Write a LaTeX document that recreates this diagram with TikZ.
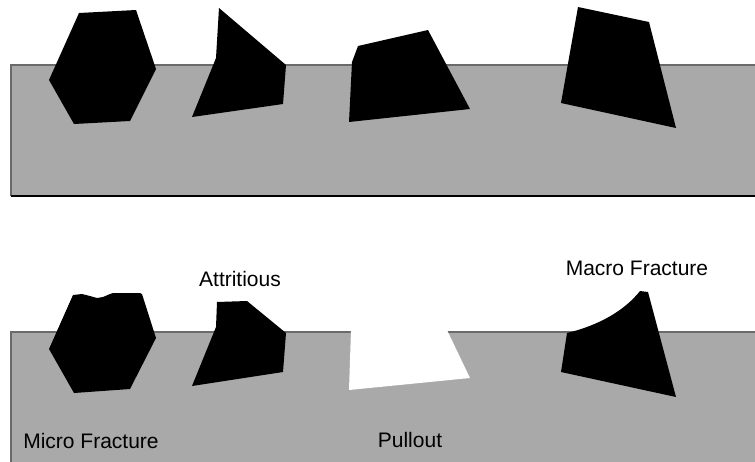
\documentclass[tikz,border=0pt]{standalone}
\usepackage{fontspec}
\setmainfont{Liberation Sans}
\definecolor{bond}{HTML}{A9A9A9}
\definecolor{bondedge}{HTML}{6A6A6A}
\begin{document}
\begin{tikzpicture}[x=1pt,y=-1pt,
  grain/.style={fill=black,draw=none},
  bondfill/.style={fill=bond,draw=none},
  lbl/.style={inner sep=0pt,font=\fontsize{21}{25}\selectfont}]
\useasboundingbox (0,0) rectangle (755,461);
\clip (0,0) rectangle (755,461);
\fill[white] (0,0) rectangle (755,461);

% ---------- upper panel: fresh wheel surface ----------
\fill[bondfill] (11,65) rectangle (760,196);
\draw[bondedge,line width=1.1pt] (11,196) -- (11,65) -- (760,65);
\draw[black,line width=1.1pt] (11,196) -- (760,196);

\fill[grain] (79,13) -- (136,10) -- (156,69) -- (130,121) -- (74,124) -- (49,80) -- cycle;
\fill[grain] (219,8) -- (286,65) -- (283,104) -- (192,117) -- (216,58) -- cycle;
\fill[grain] (358,46) -- (428,30) -- (470,109) -- (349,122) -- (352,62) -- cycle;
\fill[grain] (578,7) -- (649,22) -- (676,128) -- (561,103) -- cycle;

% ---------- lower panel: wear modes ----------
\fill[bondfill] (11,332) rectangle (760,470);
\draw[bondedge,line width=1.1pt] (11,470) -- (11,332) -- (760,332);

% pulled-out grain leaves an empty socket
\fill[white] (351,330) -- (349,390) -- (470,378) -- (447,330) -- cycle;

% micro fracture: ragged top
\fill[grain] (73,295) -- (82,294) -- (90,296) -- (97,298) -- (103,297) -- (110,294)
  -- (113,293) -- (140,293) -- (142,294) -- (156,338) -- (130,389) -- (74,393)
  -- (49,349) -- cycle;
% attritious: flattened top
\fill[grain] (217,302) -- (247,301) -- (286,333) -- (283,372) -- (192,386) -- (216,327) -- cycle;
% macro fracture: concave break face
\fill[white] (567,326) rectangle (590,331);
\fill[grain] (567,333) .. controls (600,325) and (625,310) .. (640,291)
  -- (648,292) -- (676,397) -- (561,372) -- cycle;

% ---------- labels ----------
\node[lbl] (attr) at (240,279) {Attritious};
\node[lbl] (macro) at (637,268) {Macro Fracture};
\node[lbl] (micro) at (91,441) {Micro Fracture};
\node[lbl] (pull) at (410,440) {Pullout};
\end{tikzpicture}
\end{document}
